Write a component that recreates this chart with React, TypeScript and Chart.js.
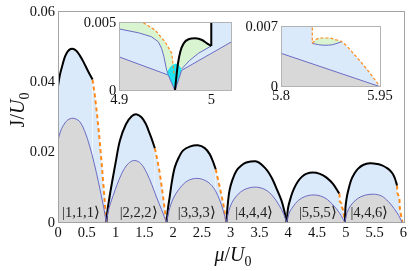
import React, { useEffect, useRef } from 'react';
import { Chart, registerables } from 'chart.js';

Chart.register(...registerables);

const SERIF = '"Liberation Serif", "Times New Roman", Times, serif';

const LIGHT_BLUE = '#dbeafb';
const GRAY = '#d8d8d8';
const GREEN = '#d9f4d0';
const CYAN = '#22e3f0';
const BLUE_LINE = '#6b6bc4';
const ORANGE = '#ff8a1c';
const FRAME = '#a3a3a3';
const INSET_FRAME = '#b3b3b3';

type P = [number, number];

// ---------- main chart ----------
const mainXTicks = [0, 0.5, 1, 1.5, 2, 2.5, 3, 3.5, 4, 4.5, 5, 5.5, 6];
const mainXTickLabels = ['0', '0.5', '1', '1.5', '2', '2.5', '3', '3.5', '4', '4.5', '5', '5.5', '6'];
const mainYTicks = [0, 0.02, 0.04, 0.06];
const mainYTickLabels = ['0', '0.02', '0.04', '0.06'];

const innerLobe1: P[] = [[0, 0.0235], [0.04, 0.0258], [0.09, 0.0276], [0.16, 0.0291], [0.24, 0.0297], [0.31, 0.0295], [0.38, 0.0287], [0.46, 0.0262], [0.55, 0.0218], [0.63, 0.0168], [0.70, 0.0118], [0.757, 0.0073], [0.80, 0.0038], [0.84, 0]];
const innerLobe2: P[] = [[0.84, 0], [0.875, 0.0035], [0.96, 0.0078], [1.105, 0.0139], [1.22, 0.0168], [1.33, 0.0177], [1.44, 0.0168], [1.54, 0.0142], [1.63, 0.0108], [1.71, 0.0073], [1.80, 0.0037], [1.885, 0]];
const innerLobe3: P[] = [[1.885, 0], [1.93, 0.0035], [2.0, 0.0068], [2.115, 0.0098], [2.25, 0.0119], [2.41, 0.0126], [2.57, 0.0119], [2.70, 0.0100], [2.80, 0.0068], [2.87, 0.0035], [2.925, 0]];
const innerLobe4: P[] = [[2.925, 0], [2.97, 0.0035], [3.05, 0.0065], [3.17, 0.0087], [3.30, 0.0098], [3.45, 0.0101], [3.60, 0.0094], [3.73, 0.0076], [3.84, 0.0050], [3.92, 0.0025], [3.975, 0]];
const innerLobe5: P[] = [[3.975, 0], [4.01, 0.0025], [4.08, 0.0045], [4.18, 0.0064], [4.30, 0.0075], [4.43, 0.0079], [4.56, 0.0076], [4.68, 0.0066], [4.83, 0.0041], [4.92, 0.0020], [4.985, 0]];
const innerLobe6: P[] = [[4.985, 0], [5.02, 0.0028], [5.09, 0.0050], [5.20, 0.0068], [5.33, 0.0078], [5.48, 0.0081], [5.62, 0.0076], [5.74, 0.0060], [5.84, 0.0040], [5.92, 0.0020], [5.98, 0]];

const outerSolid1: P[] = [[0, 0.0388], [0.03, 0.0418], [0.064, 0.044], [0.121, 0.0472], [0.17, 0.0487], [0.22, 0.0494], [0.27, 0.0494], [0.324, 0.0488], [0.38, 0.0475], [0.44, 0.0458], [0.525, 0.043], [0.60, 0.0407]];
const outerSolid2: P[] = [[0.84, 0], [0.86, 0.0035], [0.9, 0.0078], [0.95, 0.0125], [1.0, 0.0170], [1.075, 0.0233], [1.18, 0.0280], [1.28, 0.0303], [1.37, 0.0308], [1.45, 0.0300], [1.52, 0.0283], [1.566, 0.0265], [1.62, 0.0242], [1.682, 0.0212]];
const outerSolid3: P[] = [[1.885, 0], [1.91, 0.0040], [1.94, 0.0073], [1.98, 0.0118], [2.03, 0.0158], [2.10, 0.0186], [2.17, 0.0205], [2.30, 0.0217], [2.43, 0.0220], [2.55, 0.0212], [2.635, 0.0195], [2.69, 0.0175], [2.74, 0.0152]];
const outerSolid4: P[] = [[2.925, 0], [2.945, 0.0045], [2.98, 0.0092], [3.03, 0.0122], [3.10, 0.0148], [3.18, 0.0162], [3.27, 0.0171], [3.43, 0.0175], [3.50, 0.0170], [3.60, 0.0155], [3.67, 0.0140], [3.73, 0.0122], [3.81, 0.0092], [3.88, 0.0064], [3.93, 0.0035], [3.975, 0]];
const outerSolid5: P[] = [[3.975, 0], [3.995, 0.0040], [4.05, 0.0075], [4.10, 0.0097], [4.17, 0.0118], [4.24, 0.0131], [4.31, 0.0139], [4.43, 0.0143], [4.55, 0.0139], [4.66, 0.0129], [4.774, 0.0111], [4.885, 0.0083]];
const outerSolid6: P[] = [[4.985, 0], [4.99, 0.0025], [4.995, 0.0045], [5.01, 0.0065], [5.03, 0.0083], [5.09, 0.0120], [5.15, 0.0140], [5.21, 0.0153], [5.30, 0.0164], [5.42, 0.0169], [5.55, 0.0167], [5.63, 0.0163], [5.70, 0.0157], [5.76, 0.0150], [5.815, 0.0139], [5.855, 0.0125], [5.89, 0.0106]];

const outerDashed1: P[] = [[0.60, 0.0407], [0.64, 0.0362], [0.68, 0.0305], [0.72, 0.0240], [0.76, 0.0165], [0.80, 0.0085], [0.84, 0]];
const outerDashed2: P[] = [[1.682, 0.0212], [1.73, 0.0175], [1.77, 0.0139], [1.826, 0.0073], [1.885, 0]];
const outerDashed3: P[] = [[2.74, 0.0152], [2.78, 0.0122], [2.81, 0.0101], [2.87, 0.0055], [2.925, 0]];
const outerDashed5: P[] = [[4.885, 0.0083], [4.892, 0.0079], [4.896, 0.0060], [4.925, 0.0055], [4.93, 0.0045], [4.955, 0.0036], [4.985, 0]];
const outerDashed6: P[] = [[5.89, 0.0106], [5.895, 0.0085], [5.93, 0.0072], [5.94, 0.0038], [5.985, 0]];

const ketLabels = ['|1,1,1⟩', '|2,2,2⟩', '|3,3,3⟩', '|4,4,4⟩', '|5,5,5⟩', '|4,4,6⟩'];
const ketMu = [0.40, 1.40, 2.41, 3.41, 4.515, 5.41];
const ketJ = 0.0027;

// ---------- inset 1 ----------
const in1XTicks = [4.9, 5];
const in1XTickLabels = ['4.9', '5'];
const in1YTicks = [0, 0.005];
const in1YTickLabels = ['0', '0.005'];

const in1Gray: P[] = [[4.9, 0.00248], [4.9533, 0.00115], [4.9605, 0], [4.9678, 0.0015], [5.0222, 0.0036]];
const in1Cyan: P[] = [[4.9515, 0.00135], [4.955, 0.0017], [4.958, 0.0019], [4.9615, 0.002], [4.9645, 0.0019], [4.9678, 0.0016]];
const in1UpperLeft: P[] = [[4.9, 0.00454], [4.9207, 0.00426], [4.935, 0.00397], [4.9424, 0.0036], [4.946, 0.0031], [4.9485, 0.0025], [4.9515, 0.0015], [4.9533, 0.00125]];
const in1UpperRight: P[] = [[4.9678, 0.0016], [4.976, 0.0022], [4.986, 0.00275], [5.0, 0.00329]];
const in1RightTop: P[] = [[5.0, 0.00329], [5.0, 0.0052], [5.0222, 0.0052]];
const in1Orange: P[] = [[4.9261, 0.005], [4.9388, 0.00446], [4.9497, 0.0036], [4.957, 0.00275], [4.9587, 0.00176], [4.9595, 0.00128]];
const in1Black: P[] = [[4.9605, 0], [4.962, 0.001], [4.9638, 0.002], [4.9663, 0.00287], [4.97, 0.00348], [4.9753, 0.00378], [4.9826, 0.00385], [4.99, 0.00373], [4.9953, 0.00348], [5.0, 0.00329]];
const in1BlackVertical: P[] = [[5.0, 0.00329], [5.0, 0.0052]];
const in1TopLeft: P[] = [[4.9, 0.005], [4.9261, 0.005]];

// ---------- inset 2 ----------
const in2XTicks = [5.8, 5.95];
const in2XTickLabels = ['5.8', '5.95'];
const in2YTicks = [0, 0.007];
const in2YTickLabels = ['0', '0.007'];

const in2Gray: P[] = [[5.8, 0.0039], [5.95, 0]];
const in2Sag: P[] = [[5.8474, 0.00506], [5.857, 0.0049], [5.8667, 0.00484], [5.878, 0.0049], [5.892, 0.00525]];
const in2Arc: P[] = [[5.8474, 0.00506], [5.853, 0.0055], [5.862, 0.00568], [5.872, 0.00568], [5.882, 0.0055], [5.892, 0.00525]];
const in2Descent: P[] = [[5.892, 0.00525], [5.9095, 0.0039], [5.923, 0.0027], [5.935, 0.00156], [5.95, 0]];
const in2OrangeVertical: P[] = [[5.8474, 0.0075], [5.8474, 0.00506]];
const in2LeftTop: P[] = [[5.8, 0.0075], [5.8474, 0.0075]];

// ---------- helpers ----------
const pts = (a: P[]) => a.map(([x, y]) => ({ x, y }));

function line(a: P[], o: any) {
  return {
    data: pts(a),
    pointRadius: 0,
    pointHoverRadius: 0,
    borderWidth: 0,
    borderColor: 'rgba(0,0,0,0)',
    fill: false,
    tension: 0,
    ...o,
  };
}

function xAxis(min: number, max: number, ticks: number[], labels: string[], height: number, pad: number) {
  return {
    type: 'linear',
    min,
    max,
    afterBuildTicks: (s: any) => { s.ticks = ticks.map((v) => ({ value: v })); },
    afterFit: (s: any) => { s.height = height; },
    grid: { display: false, drawTicks: false },
    border: { display: false },
    ticks: {
      autoSkip: false,
      maxRotation: 0,
      padding: pad,
      color: '#111',
      font: { family: SERIF, size: 14.5 },
      callback: (_v: any, i: number) => labels[i],
    },
  };
}

function yAxis(min: number, max: number, ticks: number[], labels: string[], width: number) {
  return {
    type: 'linear',
    min,
    max,
    afterBuildTicks: (s: any) => { s.ticks = ticks.map((v) => ({ value: v })); },
    afterFit: (s: any) => { s.width = width; },
    grid: { display: false, drawTicks: false },
    border: { display: false },
    ticks: {
      autoSkip: false,
      padding: 3,
      color: '#111',
      font: { family: SERIF, size: 14.5 },
      callback: (_v: any, i: number) => labels[i],
    },
  };
}

function framePlugin(color: string) {
  return {
    id: 'frame',
    afterDatasetsDraw(chart: any) {
      const { ctx, chartArea } = chart;
      const l = Math.floor(chartArea.left) + 0.5;
      const t = Math.floor(chartArea.top) + 0.5;
      const r = Math.floor(chartArea.right) + 0.5;
      const b = Math.floor(chartArea.bottom) + 0.5;
      ctx.save();
      ctx.strokeStyle = color;
      ctx.lineWidth = 1;
      ctx.strokeRect(l, t, r - l, b - t);
      ctx.restore();
    },
  };
}

type Part = { t: string; italic?: boolean; size: number; sub?: boolean };

function drawRich(ctx: CanvasRenderingContext2D, parts: Part[], cx: number, cy: number, rotate: boolean) {
  ctx.save();
  ctx.translate(cx, cy);
  if (rotate) ctx.rotate(-Math.PI / 2);
  const fontOf = (p: Part) => `${p.italic ? 'italic ' : ''}${p.size}px ${SERIF}`;
  let total = 0;
  const widths = parts.map((p) => {
    ctx.font = fontOf(p);
    const w = ctx.measureText(p.t).width;
    total += w;
    return w;
  });
  const main = parts[0].size;
  let x = -total / 2;
  ctx.textBaseline = 'alphabetic';
  ctx.textAlign = 'left';
  ctx.fillStyle = '#111';
  parts.forEach((p, i) => {
    ctx.font = fontOf(p);
    const y = main * 0.33 + (p.sub ? main * 0.25 : 0);
    ctx.fillText(p.t, x, y);
    x += widths[i];
  });
  ctx.restore();
}

const baseOptions = (scales: any, padding: any) => ({
  responsive: false,
  animation: false,
  events: [],
  layout: { padding },
  plugins: {
    legend: { display: false },
    tooltip: { enabled: false },
    filler: { drawTime: 'beforeDatasetsDraw' },
  },
  scales,
});

const SMOOTH = 0.35;

function mainConfig(): any {
  const inner = [innerLobe1, innerLobe2, innerLobe3, innerLobe4, innerLobe5, innerLobe6];
  const solid = [outerSolid1, outerSolid2, outerSolid3, outerSolid4, outerSolid5, outerSolid6];
  const dashed = [outerDashed1, outerDashed2, outerDashed3, outerDashed5, outerDashed6];
  const datasets = [
    ...inner.map((a) => line(a, { fill: 'origin', backgroundColor: GRAY, borderColor: BLUE_LINE, borderWidth: 1, tension: SMOOTH })),
    ...solid.map((a) => line(a, { fill: 'origin', backgroundColor: LIGHT_BLUE, borderColor: '#000', borderWidth: 2, tension: SMOOTH })),
    ...dashed.map((a) => line(a, { fill: 'origin', backgroundColor: LIGHT_BLUE, borderColor: ORANGE, borderWidth: 2, borderDash: [4, 3] })),
  ];
  const textPlugin = {
    id: 'mainText',
    afterDraw(chart: any) {
      const { ctx, scales } = chart;
      ctx.save();
      ctx.font = `14.5px ${SERIF}`;
      ctx.fillStyle = '#222';
      ctx.textAlign = 'center';
      ctx.textBaseline = 'middle';
      ketLabels.forEach((k, i) => {
        ctx.fillText(k, scales.x.getPixelForValue(ketMu[i]), scales.y.getPixelForValue(ketJ));
      });
      ctx.restore();
      drawRich(ctx, [
        { t: 'J', size: 20 },
        { t: '/', size: 20 },
        { t: 'U', size: 20, italic: true },
        { t: '0', size: 14, sub: true },
      ], 17, 110, true);
      drawRich(ctx, [
        { t: 'μ', size: 20, italic: true },
        { t: '/', size: 20 },
        { t: 'U', size: 20, italic: true },
        { t: '0', size: 14, sub: true },
      ], 233, 254, false);
    },
  };
  return {
    type: 'line',
    data: { datasets },
    options: baseOptions({
      x: xAxis(0, 6.025, mainXTicks, mainXTickLabels, 271 - 222.7, 2),
      y: yAxis(0, 0.06, mainYTicks, mainYTickLabels, 58),
    }, { left: 0, top: 9.5, right: 3.5, bottom: 0 }),
    plugins: [framePlugin(FRAME), textPlugin],
  };
}

function inset1Config(): any {
  const greenTop: P[] = [...in1TopLeft, ...in1Orange.slice(1), ...in1Black];
  const blueTop: P[] = [...in1UpperLeft, [4.9605, 0], ...in1UpperRight, ...in1RightTop.slice(1)];
  const datasets = [
    line(in1Black, { borderColor: '#000', borderWidth: 2, cubicInterpolationMode: 'monotone' }),
    line(in1BlackVertical, { borderColor: '#000', borderWidth: 2 }),
    line(in1Orange, { borderColor: ORANGE, borderWidth: 1.2, borderDash: [3, 2] }),
    line(in1UpperLeft, { borderColor: BLUE_LINE, borderWidth: 1 }),
    line(in1UpperRight, { borderColor: BLUE_LINE, borderWidth: 1 }),
    line(in1Gray, { fill: 'origin', backgroundColor: GRAY, borderColor: BLUE_LINE, borderWidth: 1 }),
    line(in1Cyan, { fill: 'origin', backgroundColor: CYAN }),
    line(blueTop, { fill: 'origin', backgroundColor: LIGHT_BLUE }),
    line(greenTop, { fill: 'origin', backgroundColor: GREEN }),
  ];
  return {
    type: 'line',
    data: { datasets },
    options: baseOptions({
      x: xAxis(4.9, 5.0222, in1XTicks, in1XTickLabels, 100 - 80.7, 0.5),
      y: yAxis(0, 0.005, in1YTicks, in1YTickLabels, 39.3),
    }, { left: 0, top: 12.7, right: 8.3, bottom: 0 }),
    plugins: [framePlugin(INSET_FRAME)],
  };
}

function inset2Config(): any {
  const blueTop: P[] = [...in2LeftTop, ...in2Sag, ...in2Descent.slice(1)];
  const orangeCurve: P[] = [...in2Arc, ...in2Descent.slice(1)];
  const datasets = [
    line(in2OrangeVertical, { borderColor: ORANGE, borderWidth: 1.2, borderDash: [3, 2] }),
    line(orangeCurve, { borderColor: ORANGE, borderWidth: 1.2, borderDash: [3, 2], cubicInterpolationMode: 'monotone' }),
    line(in2Sag, { borderColor: BLUE_LINE, borderWidth: 1, cubicInterpolationMode: 'monotone' }),
    line(in2Gray, { fill: 'origin', backgroundColor: GRAY, borderColor: BLUE_LINE, borderWidth: 1 }),
    line(blueTop, { fill: 'origin', backgroundColor: LIGHT_BLUE }),
    line(in2Arc, { fill: 'origin', backgroundColor: GREEN, cubicInterpolationMode: 'monotone' }),
  ];
  return {
    type: 'line',
    data: { datasets },
    options: baseOptions({
      x: xAxis(5.8, 5.95, in2XTicks, in2XTickLabels, 100 - 76.7, 1),
      y: yAxis(0, 0.007, in2YTicks, in2YTickLabels, 41),
    }, { left: 0, top: 16.7, right: 20, bottom: 0 }),
    plugins: [framePlugin(INSET_FRAME)],
  };
}

export default function App() {
  const mainRef = useRef<HTMLCanvasElement>(null);
  const in1Ref = useRef<HTMLCanvasElement>(null);
  const in2Ref = useRef<HTMLCanvasElement>(null);

  useEffect(() => {
    const charts = [
      new Chart(mainRef.current as HTMLCanvasElement, mainConfig()),
      new Chart(in1Ref.current as HTMLCanvasElement, inset1Config()),
      new Chart(in2Ref.current as HTMLCanvasElement, inset2Config()),
    ];
    return () => charts.forEach((c) => c.destroy());
  }, []);

  return (
    <div style={{ position: 'absolute', left: 0, top: 0, width: 409, height: 271, background: '#fff' }}>
      <canvas ref={mainRef} width={409} height={271} style={{ position: 'absolute', left: 0, top: 0 }} />
      <canvas ref={in1Ref} width={160} height={100} style={{ position: 'absolute', left: 80, top: 10 }} />
      <canvas ref={in2Ref} width={160} height={100} style={{ position: 'absolute', left: 240, top: 10 }} />
    </div>
  );
}
